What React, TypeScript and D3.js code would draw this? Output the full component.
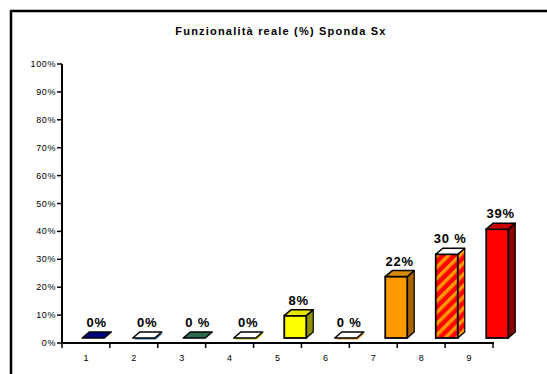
import React from "react";
import * as d3 from "d3";

const categories = ["1", "2", "3", "4", "5", "6", "7", "8", "9"];
const values = [0, 0, 0, 0, 8, 0, 22, 30, 39];
const labels = ["0%", "0%", "0 %", "0%", "8%", "0 %", "22%", "30 %", "39%"];
const yTicks = [0, 10, 20, 30, 40, 50, 60, 70, 80, 90, 100];

type Style = { front: string; side: string; top: string; under?: string };
const styles: Style[] = [
  { front: "#000080", side: "#000060", top: "#000080" },
  { front: "#ffffff", side: "#ffffff", top: "#ffffff", under: "#2f6fa0" },
  { front: "#2f6a4f", side: "#1f4a35", top: "#2f6a4f" },
  { front: "#ffffff", side: "#ffffff", top: "#ffffff", under: "#c8c800" },
  { front: "#ffff00", side: "#8f8f00", top: "#e6e600" },
  { front: "#ffffff", side: "#ffffff", top: "#ffffff", under: "#e89a20" },
  { front: "#ff9900", side: "#a86400", top: "#d98800" },
  { front: "url(#stripes)", side: "url(#stripes)", top: "#ffffff" },
  { front: "#ff0000", side: "#8a0000", top: "#cc0000" },
];

export default function App() {
  const W = 547, H = 374;
  const y = d3.scaleLinear().domain([0, 100]).range([343, 64]);
  const xAxis = d3.scaleBand<string>().domain(categories).range([62, 493]);
  const xBar = d3.scaleBand<string>().domain(categories).range([68, 522.5]);
  const bw = 22, dx = 7, dy = 6, lift = 5;

  return (
    <svg width={W} height={H} style={{ position: "absolute", left: 0, top: 0, background: "#fff" }}
      fontFamily="Arial, 'Liberation Sans', sans-serif">
      <defs>
        <pattern id="stripes" width="8" height="8" patternUnits="userSpaceOnUse" patternTransform="rotate(45)">
          <rect width="8" height="8" fill="#ff0000" />
          <rect width="3.5" height="8" fill="#ff9900" />
        </pattern>
      </defs>
      <rect x={0} y={0} width={W} height={H} fill="#fff" />
      <rect x={11} y={11} width={W + 20} height={H + 20} fill="none" stroke="#000" strokeWidth={2.5} />
      <text x={281} y={35} textAnchor="middle" fontSize={11} fontWeight="bold" letterSpacing={1.2}>Funzionalità reale (%) Sponda Sx</text>

      {/* y axis */}
      <line x1={62} x2={62} y1={y(100)} y2={y(0)} stroke="#000" strokeWidth={2} />
      {yTicks.map((t) => (
        <g key={t}>
          <line x1={57} x2={62} y1={y(t)} y2={y(t)} stroke="#000" strokeWidth={1.5} />
          <text x={56} y={y(t) + 3} textAnchor="end" fontSize={9} letterSpacing={0.6}>{t}%</text>
        </g>
      ))}

      {/* x axis */}
      <line x1={61} x2={494} y1={y(0)} y2={y(0)} stroke="#000" strokeWidth={2} />
      {[...categories.map((c) => xAxis(c)!), 493].map((xv, i) => (
        <line key={i} x1={xv} x2={xv} y1={y(0)} y2={y(0) + 5} stroke="#000" strokeWidth={1.5} />
      ))}
      {categories.map((c) => (
        <text key={c} x={xAxis(c)! + xAxis.bandwidth() / 2} y={361} textAnchor="middle" fontSize={9}>{c}</text>
      ))}

      {/* bars */}
      {categories.map((c, i) => {
        const v = values[i];
        const s = styles[i];
        const cx = xBar(c)! + xBar.bandwidth() / 2;
        const x0 = cx - bw / 2, x1 = cx + bw / 2;
        const yb = y(0) - lift;
        const yt = y(v) - lift;
        const top = `M${x0},${yt} L${x1},${yt} L${x1 + dx},${yt - dy} L${x0 + dx},${yt - dy} Z`;
        const side = `M${x1},${yt} L${x1 + dx},${yt - dy} L${x1 + dx},${yb - dy} L${x1},${yb} Z`;
        return (
          <g key={c}>
            {v === 0 && s.under && (
              <path d={`M${x0 + 2},${yb + 1.5} L${x1 + 1},${yb + 1.5} L${x1 + dx + 1},${yb - dy + 1.5} L${x0 + dx + 2},${yb - dy + 1.5} Z`}
                fill={s.under} />
            )}
            {v > 0 && (
              <>
                <path d={side} fill={s.side} stroke="#000" strokeWidth={1.2} strokeLinejoin="round" />
                <rect x={x0} y={yt} width={bw} height={yb - yt} fill={s.front} stroke="#000" strokeWidth={1.8} />
              </>
            )}
            <path d={top} fill={s.top} stroke="#000" strokeWidth={1.5} strokeLinejoin="round" />
            <text x={cx + dx / 2} y={yt - dy - 5} textAnchor="middle" fontSize={13} fontWeight="bold" letterSpacing={0.8}>{labels[i]}</text>
          </g>
        );
      })}
    </svg>
  );
}
